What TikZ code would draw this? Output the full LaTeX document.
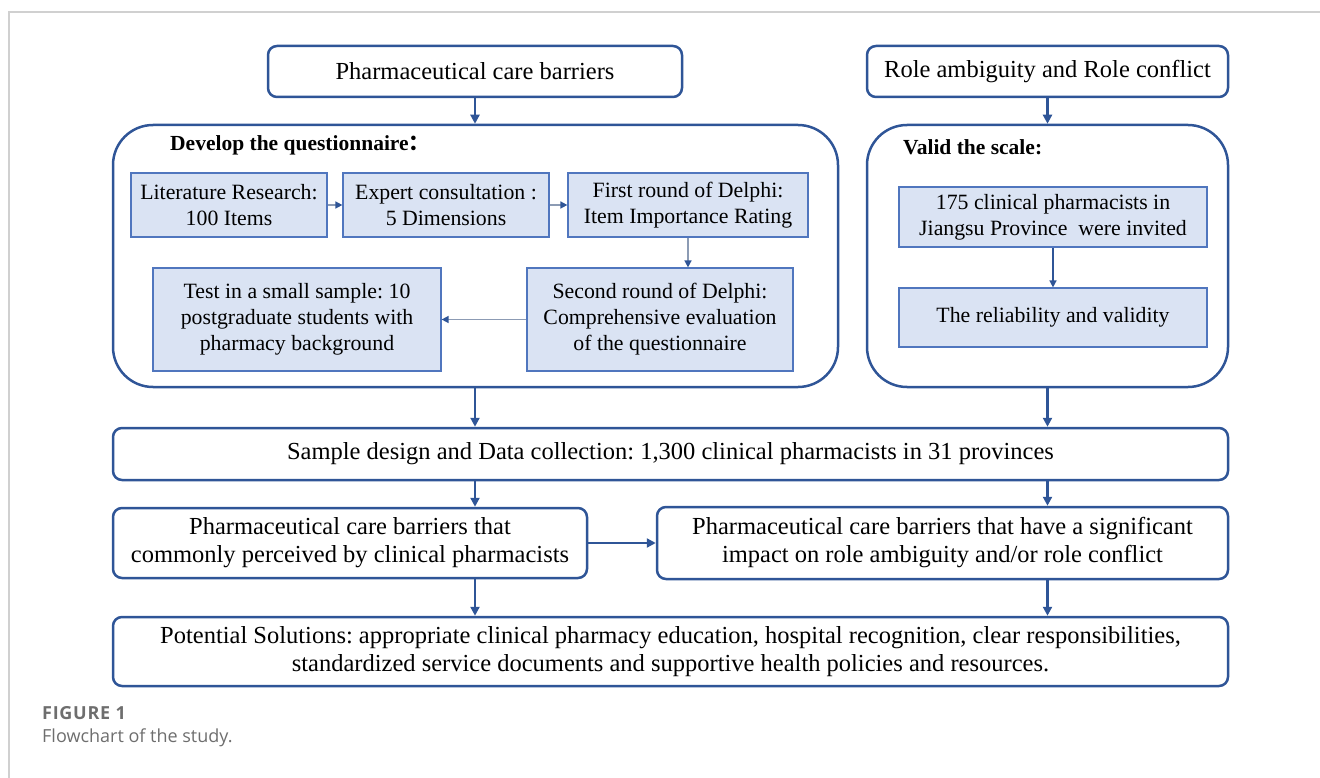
\documentclass[tikz,border=0pt]{standalone}
\usepackage{fontspec}
\setmainfont{Liberation Serif}
\newfontfamily\capfont{Open Sans}
\newfontfamily\cjk{Noto Sans CJK SC}
\usetikzlibrary{arrows.meta,calc}
\frenchspacing
\definecolor{dblue}{RGB}{47,85,151}
\definecolor{iblue}{RGB}{80,118,190}
\definecolor{lblue}{RGB}{218,227,243}
\definecolor{ilinec}{RGB}{140,155,180}
\definecolor{capgray}{RGB}{110,110,110}
\definecolor{framegray}{RGB}{208,208,208}
\tikzset{
  tbox/.style={draw=dblue, line width=2.5pt, rounded corners=9pt, fill=white, align=center,
    inner sep=0pt, font=\rmfamily\fontsize{24.5}{28}\selectfont\frenchspacing},
  bigbox/.style={draw=dblue, line width=2.5pt, rounded corners=40pt, inner sep=0pt},
  ibox/.style={draw=iblue, line width=1.2pt, fill=lblue, align=center, inner sep=0pt,
    font=\rmfamily\fontsize{21.8}{26}\selectfont\frenchspacing},
  btitle/.style={anchor=west, inner sep=0pt, font=\rmfamily\fontsize{21.5}{26}\selectfont\bfseries},
  thick arrow/.style={draw=dblue, line width=2.5pt, -{Triangle[length=9pt,width=9pt]}},
  thin arrow/.style={draw=ilinec, line width=1.5pt, -{Triangle[length=7pt,width=7pt,color=dblue,fill=dblue]}},
  caption/.style={anchor=west, inner sep=0pt, text=capgray},
}
\begin{document}
\begin{tikzpicture}[x=1pt,y=-1pt]
\useasboundingbox (0,0) rectangle (1320,778);
% frame
\draw[framegray, line width=1.5pt] (1320,12) -- (9,12) -- (9,778);
% column coordinates
\coordinate (colL) at (475,0);
\coordinate (colR) at (1047.5,0);
% top boxes
\node[tbox, minimum width=414pt, minimum height=51pt] (pcb) at (475,71.5) {Pharmaceutical care barriers};
\node[tbox, minimum width=361pt, minimum height=51pt] (rarc) at (1047.5,71.5) {Role ambiguity and Role conflict};
% big containers
\node[bigbox, minimum width=725pt, minimum height=262pt] (dev) at (475.5,256) {};
\node[bigbox, minimum width=361pt, minimum height=262pt] (val) at (1047.5,256) {};
\node[btitle] (devt) at (170,145) {Develop the questionnaire{\cjk ：}};
\node[btitle] (valt) at (903,147) {Valid the scale:};
% inner boxes left
\node[ibox, minimum width=196pt, minimum height=64pt] (lit) at (229,205) {Literature Research:\\100 Items};
\node[ibox, minimum width=206pt, minimum height=64pt] (exp) at (446,205) {Expert consultation :\\5 Dimensions};
\node[ibox, minimum width=240pt, minimum height=64pt] (fst) at (688,205) {First round of Delphi:\\Item Importance Rating};
\node[ibox, minimum width=288pt, minimum height=103pt] (tst) at (297,319.5) {Test in a small sample: 10\\postgraduate students with\\pharmacy background};
\node[ibox, minimum width=266pt, minimum height=103pt] (snd) at (660,319.5) {Second round of Delphi:\\Comprehensive evaluation\\of the questionnaire};
% inner boxes right
\node[ibox, minimum width=308pt, minimum height=60pt] (inv) at (1053,217) {175 clinical pharmacists in\\Jiangsu Province\ \ were invited};
\node[ibox, minimum width=308pt, minimum height=59pt] (rel) at (1053,317.5) {The reliability and validity};
% lower boxes
\node[tbox, minimum width=1115pt, minimum height=52pt] (smp) at (670.5,454) {Sample design and Data collection: 1,300 clinical pharmacists in 31 provinces};
\node[tbox, minimum width=474pt, minimum height=70pt] (cpl) at (350,543) {Pharmaceutical care barriers that\\commonly perceived by clinical pharmacists};
\node[tbox, minimum width=571pt, minimum height=72pt] (cpr) at (942.5,543) {Pharmaceutical care barriers that have a significant\\impact on role ambiguity and/or role conflict};
\node[tbox, minimum width=1115pt, minimum height=69pt] (sol) at (670.5,651.5) {Potential Solutions: appropriate clinical pharmacy education, hospital recognition, clear responsibilities,\\standardized service documents and supportive health policies and resources.};
% caption
\node[caption, font=\capfont\fontsize{18}{22}\selectfont\bfseries\addfontfeatures{LetterSpace=4}] (fig) at (42,713) {FIGURE 1};
\node[caption, font=\capfont\fontsize{18}{22}\selectfont] (figc) at (42,738) {Flowchart of the study.};
% thick arrows
\draw[thick arrow] (pcb.south) -- (pcb.south |- dev.north);
\draw[thick arrow] (rarc.south) -- (rarc.south |- val.north);
\draw[thick arrow] (dev.south -| colL) -- (smp.north -| colL);
\draw[thick arrow] (val.south -| colR) -- (smp.north -| colR);
\draw[thick arrow] (smp.south -| colL) -- (cpl.north -| colL);
\draw[thick arrow] (smp.south -| colR) -- (cpr.north -| colR);
\draw[thick arrow] (cpl.east) -- (cpr.west |- cpl.east);
\draw[thick arrow] (cpl.south -| colL) -- (sol.north -| colL);
\draw[thick arrow] (cpr.south -| colR) -- (sol.north -| colR);
% thin arrows
\draw[thin arrow] (lit.east) -- (exp.west);
\draw[thin arrow] (exp.east) -- (fst.west);
\draw[thin arrow] (fst.south) -- (fst.south |- snd.north);
\draw[thin arrow] (snd.west) -- (tst.east |- snd.west);
\draw[thin arrow, draw=dblue] (inv.south) -- (rel.north);
\end{tikzpicture}
\end{document}
